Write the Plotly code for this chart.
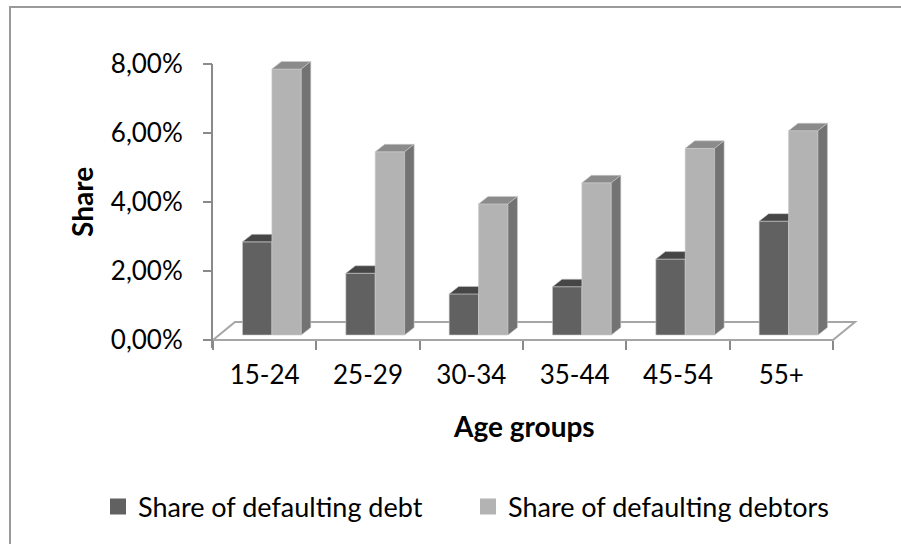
import plotly.graph_objects as go

# ---------------- data ----------------
categories = ["15-24", "25-29", "30-34", "35-44", "45-54", "55+"]
debt_share = [0.0270, 0.0179, 0.0119, 0.0140, 0.0220, 0.0330]
debtor_share = [0.0771, 0.0531, 0.0380, 0.0441, 0.0541, 0.0592]
y_tick_values = [0.0, 0.02, 0.04, 0.06, 0.08]
series_names = ["Share of defaulting debt", "Share of defaulting debtors"]

# ---------------- styling / geometry ----------------
W, H = 901, 544
X0_PX, UX = 213.0, 103.33      # pixel of category boundary 0, px per category
Y0_PX, UY = 340.0, 3450.0      # pixel of value 0, px per unit share
XR = [-0.03, 6.32]
YR = [-0.0025, 0.0815]

FLOOR_DX, FLOOR_DY = 22 / UX, 18 / UY
BAR_DX, BAR_DY = 9.5 / UX, 7.5 / UY
BAR_BASE = 5 / UY
BAR_X0 = 29.5 / UX
BAR_W = 29.4 / UX

DARK_FRONT, DARK_TOP = "#616161", "#464646"
LIGHT_FRONT, LIGHT_TOP, LIGHT_SIDE = "#b3b3b3", "#8b8b8b", "#737373"
EDGE = "#c9c9c9"
AXIS = "#8a8a8a"
FONT = "Lato"

def px_to_paper_x(px):
    return px / W

def px_to_paper_y(px):
    return 1 - px / H

x_dom = [px_to_paper_x(X0_PX + XR[0] * UX), px_to_paper_x(X0_PX + XR[1] * UX)]
y_dom = [px_to_paper_y(Y0_PX - YR[0] * UY), px_to_paper_y(Y0_PX - YR[1] * UY)]

n = len(categories)
dark_left = [i + BAR_X0 for i in range(n)]
light_left = [i + BAR_X0 + BAR_W for i in range(n)]

fig = go.Figure()

# front faces
fig.add_trace(go.Bar(
    x=[l + BAR_W / 2 for l in dark_left], y=debt_share, base=BAR_BASE, width=BAR_W,
    marker=dict(color=DARK_FRONT, line=dict(color=EDGE, width=0.6)),
    showlegend=False, hoverinfo="skip"))
fig.add_trace(go.Bar(
    x=[l + BAR_W / 2 for l in light_left], y=debtor_share, base=BAR_BASE, width=BAR_W,
    marker=dict(color=LIGHT_FRONT, line=dict(color=EDGE, width=0.6)),
    showlegend=False, hoverinfo="skip"))

# dark top faces (clipped by the taller light bar to their right)
xs, ys = [], []
for l, v in zip(dark_left, debt_share):
    t = BAR_BASE + v
    xs += [l, l + BAR_W, l + BAR_W, l + BAR_DX, l, None]
    ys += [t, t, t + BAR_DY, t + BAR_DY, t, None]
fig.add_trace(go.Scatter(x=xs, y=ys, mode="lines", fill="toself", fillcolor=DARK_TOP,
                         line=dict(color=EDGE, width=0.6), showlegend=False, hoverinfo="skip"))

# light top faces
xs, ys = [], []
for l, v in zip(light_left, debtor_share):
    t = BAR_BASE + v
    xs += [l, l + BAR_W, l + BAR_W + BAR_DX, l + BAR_DX, l, None]
    ys += [t, t, t + BAR_DY, t + BAR_DY, t, None]
fig.add_trace(go.Scatter(x=xs, y=ys, mode="lines", fill="toself", fillcolor=LIGHT_TOP,
                         line=dict(color=EDGE, width=0.6), showlegend=False, hoverinfo="skip"))

# light side faces
xs, ys = [], []
for l, v in zip(light_left, debtor_share):
    t = BAR_BASE + v
    r = l + BAR_W
    xs += [r, r + BAR_DX, r + BAR_DX, r, r, None]
    ys += [BAR_BASE, BAR_BASE + BAR_DY, t + BAR_DY, t, BAR_BASE, None]
fig.add_trace(go.Scatter(x=xs, y=ys, mode="lines", fill="toself", fillcolor=LIGHT_SIDE,
                         line=dict(color=EDGE, width=0.6), showlegend=False, hoverinfo="skip"))

# legend entries
for name, col in zip(series_names, [DARK_FRONT, LIGHT_FRONT]):
    fig.add_trace(go.Scatter(x=[None], y=[None], mode="markers", name=name,
                             marker=dict(symbol="square", size=16, color=col)))

# floor
fig.add_shape(type="path", xref="x", yref="y", layer="below",
              path=(f"M 0,0 L {n},0 L {n + FLOOR_DX},{FLOOR_DY} "
                    f"L {FLOOR_DX},{FLOOR_DY} Z"),
              line=dict(color="#a6a6a6", width=2), fillcolor="white")

# y axis line
fig.add_shape(type="line", xref="paper", yref="paper",
              x0=px_to_paper_x(212), x1=px_to_paper_x(212),
              y0=px_to_paper_y(348), y1=px_to_paper_y(64),
              line=dict(color=AXIS, width=2))

# outer chart border (left and top edges visible)
fig.add_shape(type="path", xref="paper", yref="paper",
              path=f"M {px_to_paper_x(10)},{px_to_paper_y(560)} L {px_to_paper_x(10)},{px_to_paper_y(7)} L {px_to_paper_x(905)},{px_to_paper_y(7)}",
              line=dict(color="#9a9a9a", width=2))

# axis titles
fig.add_annotation(text="<b>Share</b>", xref="paper", yref="paper",
                   x=px_to_paper_x(82), y=px_to_paper_y(202), textangle=-90,
                   xanchor="center", yanchor="middle",
                   showarrow=False, font=dict(family=FONT, size=28, color="black"))
fig.add_annotation(text="<b>Age groups</b>", xref="paper", yref="paper",
                   x=px_to_paper_x(524), y=px_to_paper_y(426),
                   xanchor="center", yanchor="middle",
                   showarrow=False, font=dict(family=FONT, size=28, color="black"))

fig.update_layout(
    width=W, height=H,
    margin=dict(l=0, r=0, t=0, b=0, autoexpand=False),
    paper_bgcolor="white", plot_bgcolor="rgba(0,0,0,0)",
    separators=", ",
    barmode="overlay",
    font=dict(family=FONT, size=26, color="black"),
    showlegend=True,
    legend=dict(orientation="h", x=px_to_paper_x(98), y=px_to_paper_y(507),
                xanchor="left", yanchor="middle",
                entrywidth=325, entrywidthmode="pixels",
                font=dict(family=FONT, size=27, color="black"),
                bgcolor="rgba(0,0,0,0)"),
    xaxis=dict(domain=x_dom, range=XR, anchor="free",
               position=px_to_paper_y(340),
               tickmode="array", tickvals=[i + 0.5 for i in range(n)], ticktext=categories,
               ticks="", showgrid=False, zeroline=False, showline=False,
               ticklabelstandoff=17, automargin=False,
               tickfont=dict(family=FONT, size=26, color="black"),
               minor=dict(tickmode="array", tickvals=list(range(n + 1)),
                          ticks="outside", ticklen=9, tickwidth=2, tickcolor=AXIS,
                          showgrid=False)),
    yaxis=dict(domain=y_dom, range=YR, anchor="free",
               position=px_to_paper_x(212),
               tickmode="array", tickvals=y_tick_values, tickformat=".2%",
               ticks="outside", ticklen=9, tickwidth=2, tickcolor=AXIS,
               showgrid=False, zeroline=False, showline=False,
               ticklabelstandoff=15, automargin=False,
               tickfont=dict(family=FONT, size=26, color="black")),
)

fig.write_html("out.html")
